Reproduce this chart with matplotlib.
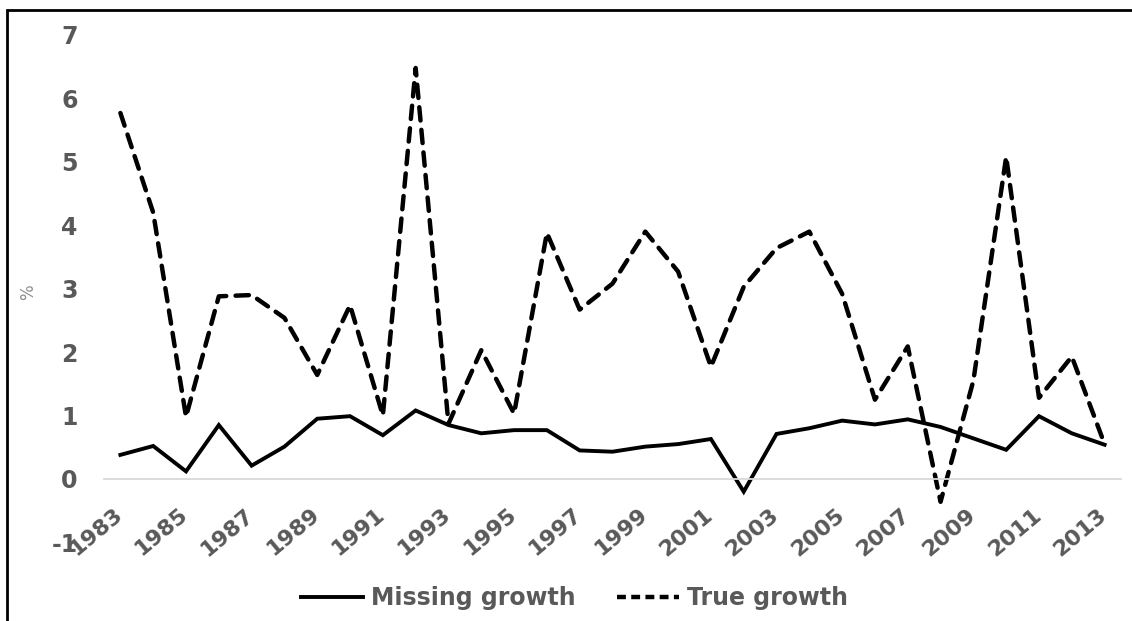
import matplotlib
matplotlib.use('Agg')
import matplotlib.pyplot as plt
import matplotlib.patches as patches
import matplotlib.transforms as transforms
from matplotlib.lines import Line2D

plt.rcParams['font.family'] = 'DejaVu Sans'
plt.rcParams['font.size'] = 17
plt.rcParams['font.weight'] = 'bold'

years = list(range(1983, 2014))
missing_growth = [0.38, 0.52, 0.12, 0.85, 0.21, 0.51, 0.95, 0.99, 0.69, 1.08,
                  0.85, 0.72, 0.77, 0.77, 0.45, 0.43, 0.51, 0.55, 0.63, -0.20,
                  0.71, 0.80, 0.92, 0.86, 0.94, 0.82, 0.64, 0.46, 0.99, 0.72,
                  0.54]
true_growth = [5.77, 4.20, 0.98, 2.88, 2.90, 2.54, 1.64, 2.74, 1.00, 6.48,
               0.87, 2.03, 1.03, 3.88, 2.67, 3.08, 3.90, 3.27, 1.77, 3.03,
               3.64, 3.90, 2.92, 1.25, 2.09, -0.36, 1.55, 5.08, 1.28, 1.93,
               0.55]
x_ticks = years[::2]
y_ticks = list(range(-1, 8))

W, H = 1132, 621
grey = '#595959'

fig = plt.figure(figsize=(W / 100, H / 100), dpi=100)
# plot area in pixels: x 104..1121, y 35..542
ax = fig.add_axes([104 / W, 1 - 542.4 / H, 1017 / W, 507.4 / H])

ax.plot(years, missing_growth, color='black', lw=2.8, solid_joinstyle='miter')
ax.plot(years, true_growth, color='black', lw=3.2, dashes=(3.0, 2.1),
        dash_capstyle='round')

ax.set_xlim(1982.5, 2013.5)
ax.set_ylim(-1, 7)

for s in ['top', 'right', 'left']:
    ax.spines[s].set_visible(False)
ax.spines['bottom'].set_position(('data', 0))
ax.spines['bottom'].set_color('#d9d9d9')
ax.spines['bottom'].set_linewidth(1.3)

ax.set_yticks(y_ticks)
ax.set_yticklabels([str(v) for v in y_ticks])
ax.tick_params(axis='y', length=0, pad=19, colors=grey)
ax.set_xticks(x_ticks)
ax.set_xticklabels([str(v) for v in x_ticks], rotation=40, ha='right',
                   va='top', rotation_mode='anchor', fontsize=16)
ax.tick_params(axis='x', length=0, pad=18.4, colors=grey)
offset = transforms.ScaledTranslation(-7 / 100, 0, fig.dpi_scale_trans)
for lab in ax.get_xticklabels():
    lab.set_transform(lab.get_transform() + offset)

fig.text(28.5 / W, 1 - 292 / H, '%', rotation=90, ha='center', va='center',
         fontsize=12, fontweight='normal', color='#8c8c8c')

handles = [Line2D([], [], color='black', lw=2.8),
           Line2D([], [], color='black', lw=3.2, dashes=(2.0, 1.2))]
leg = fig.legend(handles, ['Missing growth', 'True growth'], loc='center',
                 bbox_to_anchor=(574.5 / W, 1 - 598 / H), ncol=2, frameon=False,
                 handlelength=2.63, handletextpad=0.34, columnspacing=1.78)
for t in leg.get_texts():
    t.set_color(grey)

# chart border (cut off at right and bottom)
fig.add_artist(patches.Rectangle((7 / W, -0.1), 1.2, 1.1 - 10.3 / H,
                                 transform=fig.transFigure, fill=False,
                                 edgecolor='black', lw=2))

plt.savefig('out.png', dpi=100)
